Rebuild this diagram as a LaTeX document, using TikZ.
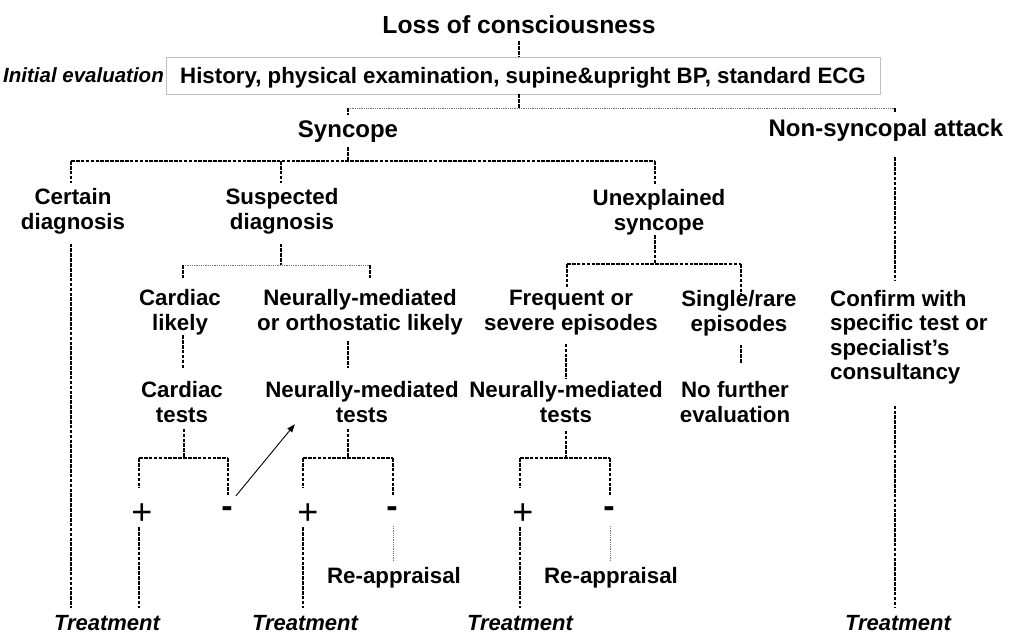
\documentclass[tikz,border=0pt]{standalone}
\usepackage{fontspec}
\setmainfont{Liberation Sans}
\usetikzlibrary{arrows.meta}
\begin{document}
\begin{tikzpicture}[x=1pt,y=-1pt,
  dl/.style={line width=1.4pt, dash pattern=on 3.6pt off 1.3pt},
  gl/.style={line width=0.9pt, black!55, dash pattern=on 0.9pt off 0.9pt},
  lbl/.style={font=\fontsize{22.3}{25}\selectfont\bfseries, inner sep=0pt, align=center},
  ttl/.style={font=\fontsize{24.7}{28}\selectfont\bfseries, inner sep=0pt},
  big/.style={font=\fontsize{24}{28}\selectfont\bfseries, inner sep=0pt},
  ital/.style={font=\fontsize{22}{25}\selectfont\bfseries\itshape, inner sep=0pt},
  sgn/.style={font=\fontsize{36}{36}\selectfont, inner sep=0pt, anchor=base},
  msgn/.style={font=\fontsize{34}{34}\selectfont\bfseries, inner sep=0pt, anchor=base},
  evalbox/.style={draw=black!25, line width=0.9pt, minimum width=714pt, minimum height=37pt, inner sep=0pt,
     font=\fontsize{22.3}{25}\selectfont\bfseries, text height=15.9pt, text depth=0pt},
  arr/.style={-{Triangle[length=8pt,width=6pt]}, line width=0.9pt}
]
\useasboundingbox (0,0) rectangle (1014,635);

% ---- texts ----
\node[ttl, anchor=base] (title) at (519,33) {Loss of consciousness};
\node[evalbox] (box) at (523,75.5) {History, physical examination, supine\&upright BP, standard ECG};
\node[ital, font=\fontsize{20.5}{24}\selectfont\bfseries\itshape, anchor=base east] (init) at (164,82) {Initial evaluation};

\node[big, anchor=base] (syn) at (348,137) {Syncope};
\node[big, anchor=base] (nonsyn) at (886,136) {Non-syncopal attack};

\node[lbl, anchor=north] (cert) at (73,188) {Certain\\diagnosis};
\node[lbl, anchor=north] (susp) at (282,188) {Suspected\\diagnosis};
\node[lbl, anchor=north] (unex) at (659,189) {Unexplained\\syncope};

\node[lbl, anchor=north] (cardl) at (180,289) {Cardiac\\likely};
\node[lbl, anchor=north] (nml) at (360,289) {Neurally-mediated\\or orthostatic likely};
\node[lbl, anchor=north] (freq) at (571,290) {Frequent or\\severe episodes};
\node[lbl, anchor=north] (single) at (739,290) {Single/rare\\episodes};
\node[lbl, align=left, font=\fontsize{22.3}{24.5}\selectfont\bfseries, anchor=north west] (confirm) at (830,290)
  {Confirm with\\specific test or\\specialist’s\\consultancy};

\node[lbl, anchor=north] (cardt) at (182,381) {Cardiac\\tests};
\node[lbl, anchor=north] (nmt) at (362,381) {Neurally-mediated\\tests};
\node[lbl, anchor=north] (nmt2) at (566,381) {Neurally-mediated\\tests};
\node[lbl, anchor=north] (nofur) at (735,381) {No further\\evaluation};

\node[sgn] (p1) at (142,524.7) {+};
\node[msgn] (m1) at (227,517) {-};
\node[sgn] (p2) at (308,524.7) {+};
\node[msgn] (m2) at (392,517) {-};
\node[sgn] (p3) at (523,524.7) {+};
\node[msgn] (m3) at (609,517) {-};

\node[lbl, anchor=base] (rea1) at (394,583) {Re-appraisal};
\node[lbl, anchor=base] (rea2) at (611,583) {Re-appraisal};

\node[ital, anchor=base] (tr1) at (107,630) {Treatment};
\node[ital, anchor=base] (tr2) at (305,630) {Treatment};
\node[ital, anchor=base] (tr3) at (520,630) {Treatment};
\node[ital, anchor=base] (tr4) at (898,630) {Treatment};

% ---- junction points ----
\coordinate (s0) at (519,108);
\coordinate (s0l) at (348,108);
\coordinate (s0r) at (895,108);
\coordinate (s1) at (348,161);
\coordinate (s1l) at (71,161);
\coordinate (s1m) at (281,161);
\coordinate (s1r) at (655,161);
\coordinate (s2) at (281,265);
\coordinate (s2l) at (183,265);
\coordinate (s2r) at (370,265);
\coordinate (s3) at (655,264);
\coordinate (s3l) at (567,264);
\coordinate (s3r) at (741,264);
\coordinate (s4) at (184,458);
\coordinate (s4l) at (139,458);
\coordinate (s4r) at (228,458);
\coordinate (s5) at (348,458);
\coordinate (s5l) at (303,458);
\coordinate (s5r) at (393,458);
\coordinate (s6) at (566,458);
\coordinate (s6l) at (520,458);
\coordinate (s6r) at (610,458);

% ---- top ----
\draw[dl, shorten <=8pt] (title.south) -- (title.south |- box.north);
\draw[dl] (title.south |- box.south) -- (s0);
\draw[gl] (s0l) -- (s0r);
\draw[dl, shorten >=5pt] (s0l) -- (syn.north);
\draw[dl, shorten >=6.5pt] (s0r) -- (s0r |- nonsyn.north);

% ---- syncope ----
\draw[dl, shorten <=5pt] (syn.south) -- (s1);
\draw[dl] (s1l) -- (s1r);
\draw[dl, shorten >=5pt] (s1l) -- (s1l |- cert.north);
\draw[dl, shorten >=5pt] (s1m) -- (s1m |- susp.north);
\draw[dl, shorten >=5pt] (s1r) -- (s1r |- unex.north);
\draw[dl, shorten <=9.3pt, shorten >=7pt] (s1l |- cert.south) -- (s1l |- tr1.north);

% ---- suspected ----
\draw[dl, shorten <=9.3pt] (s1m |- susp.south) -- (s2);
\draw[gl] (s2l) -- (s2r);
\draw[dl, shorten >=10pt] (s2l) -- (s2l |- cardl.north);
\draw[dl, shorten >=10pt] (s2r) -- (s2r |- nml.north);
\draw[dl, shorten >=13pt] (s2l |- cardl.south) -- (s2l |- cardt.north);
\draw[dl, shorten <=6.3pt, shorten >=13pt] (s1 |- nml.south) -- (s1 |- nmt.north);

% ---- unexplained ----
\draw[dl] (s1r |- unex.south) -- (s3);
\draw[dl] (s3l) -- (s3r);
\draw[dl, shorten >=3pt] (s3l) -- (s3l |- freq.north);
\draw[dl, shorten >=-4pt] (s3r) -- (s3r |- single.north);
\draw[dl, shorten <=8.4pt, shorten >=2pt] (s6 |- freq.south) -- (s6 |- nmt2.north);
\draw[dl, shorten <=8.4pt, shorten >=17pt] (s3r |- single.south) -- (s3r |- nofur.north);

% ---- non-syncopal ----
\draw[dl, shorten <=16pt, shorten >=10pt] (s0r |- nonsyn.south) -- (s0r |- confirm.north);
\draw[dl, shorten <=21pt, shorten >=7pt] (s0r |- confirm.south) -- (s0r |- tr4.north);

% ---- cardiac tests ----
\draw[dl, shorten <=6pt] (s4 |- cardt.south) -- (s4);
\draw[dl] (s4l) -- (s4r);
\draw[dl, shorten >=15.5pt] (s4l) -- (s4l |- p1.north);
\draw[dl, shorten >=10.5pt] (s4r) -- (s4r |- m1.north);
\draw[dl, shorten <=2.3pt, shorten >=7pt] (s4l |- p1.south) -- (s4l |- tr1.north);
\draw[arr] ([xshift=3pt,yshift=10pt]m1.north east) -- ([xshift=29.7pt,yshift=-1.5pt]nmt.south west);

% ---- neurally-mediated tests ----
\draw[dl, shorten <=6pt] (s5 |- nmt.south) -- (s5);
\draw[dl] (s5l) -- (s5r);
\draw[dl, shorten >=15.5pt] (s5l) -- (s5l |- p2.north);
\draw[dl, shorten >=10.5pt] (s5r) -- (s5r |- m2.north);
\draw[dl, shorten <=2.3pt, shorten >=7pt] (s5l |- p2.south) -- (s5l |- tr2.north);
\draw[gl, shorten <=8.7pt, shorten >=4.8pt] (s5r |- m2.south) -- (s5r |- rea1.north);

% ---- neurally-mediated tests (unexplained) ----
\draw[dl, shorten <=8pt] (s6 |- nmt2.south) -- (s6);
\draw[dl] (s6l) -- (s6r);
\draw[dl, shorten >=15.5pt] (s6l) -- (s6l |- p3.north);
\draw[dl, shorten >=10.5pt] (s6r) -- (s6r |- m3.north);
\draw[dl, shorten <=2.3pt, shorten >=7pt] (s6l |- p3.south) -- (s6l |- tr3.north);
\draw[gl, shorten <=8.7pt, shorten >=4.8pt] (s6r |- m3.south) -- (s6r |- rea2.north);
\end{tikzpicture}
\end{document}
